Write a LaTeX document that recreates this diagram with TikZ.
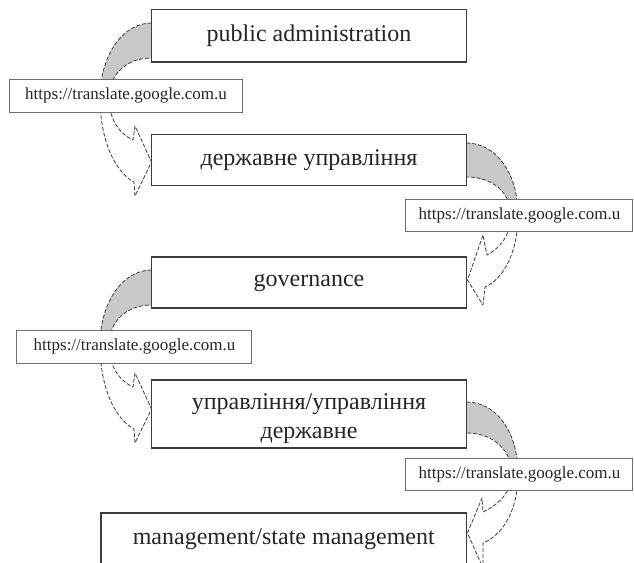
\documentclass[tikz,border=0pt]{standalone}
\usepackage{fontspec}
\setmainfont{Liberation Serif}
\definecolor{arrowgray}{RGB}{200,200,200}
\definecolor{edgegray}{RGB}{60,60,60}
\definecolor{labelgray}{RGB}{110,110,110}
\tikzset{
  mainbox/.style={draw=edgegray, line width=0.6pt, fill=white, inner sep=0pt,
    align=center, font=\fontsize{12}{13.5}\selectfont, text=black!85},
  linkbox/.style={draw=labelgray, line width=0.5pt, fill=white, inner sep=0pt,
    font=\fontsize{8.5}{10}\selectfont, text=black!85},
  arrowedge/.style={draw=edgegray, line width=0.4pt, dash pattern=on 2pt off 0.9pt, line join=round},
  arrowtop/.style={arrowedge, fill=arrowgray},
}
\begin{document}
\begin{tikzpicture}[x=0.5pt, y=-0.5pt]
\useasboundingbox (0,0) rectangle (634,563);
\clip (0,0) rectangle (634,563);

% ---------- left curved arrows (box1 -> box2, box3 -> box4)
\foreach \dy in {0,247}{
\begin{scope}[shift={(0,\dy)}]
  \path[arrowtop] (151.5,23) .. controls (123,23) and (100,55) .. (100,98)
     -- (109,98) .. controls (109,75) and (126,58) .. (151.5,58) -- cycle;
  \path[arrowedge] (100,98) .. controls (100,140) and (115,172) .. (134,182)
     -- (135,196) -- (151.5,162) -- (135,126) -- (133,140)
     .. controls (120,134) and (109,120) .. (109,98);
\end{scope}}

% ---------- right curved arrow (box2 -> box3)
\path[arrowtop] (466.5,143) .. controls (495,143) and (518,172) .. (518,215)
   -- (511,215) .. controls (511,195) and (495,177) .. (466.5,177) -- cycle;
\path[arrowedge] (518,215) .. controls (518,250) and (505,278) .. (485,287)
   -- (483,305) -- (467.5,280) -- (483,235) -- (487,255)
   .. controls (500,248) and (511,235) .. (511,215);

% ---------- right curved arrow (box4 -> box5)
\path[arrowtop] (466.5,402) .. controls (495,402) and (518,430) .. (518,474)
   -- (512,474) .. controls (512,452) and (495,433) .. (466.5,433) -- cycle;
\path[arrowedge] (518,474) .. controls (518,510) and (503,535) .. (483,543)
   -- (483,568) -- (467.5,533) -- (482,498) -- (483,512)
   .. controls (498,505) and (512,492) .. (512,474);

% ---------- main boxes
\node[mainbox, minimum width=157.5pt, minimum height=26.25pt] (b1) at (309,35.75) {public administration};
\node[mainbox, minimum width=157.5pt, minimum height=25.75pt] (b2) at (309,160) {державне управління};
\node[mainbox, minimum width=157.5pt, minimum height=25.5pt] (b3) at (309,282.5) {governance};
\node[mainbox, minimum width=157.5pt, minimum height=34pt, font=\fontsize{12}{14.5}\selectfont] (b4) at (309,414) {\rule{0pt}{13pt}управління/управління\\державне};
\node[mainbox, minimum width=182.75pt, minimum height=26.5pt] (b5) at (283.75,539.5) {management/state management};

% ---------- link labels
\node[linkbox, minimum width=117pt, minimum height=16.5pt] (l1) at (126,95.5) {https://translate.google.com.u};
\node[linkbox, minimum width=113.5pt, minimum height=16pt] (l2) at (519.5,215) {https://translate.google.com.u};
\node[linkbox, minimum width=117.5pt, minimum height=16.5pt] (l3) at (134.5,346.5) {https://translate.google.com.u};
\node[linkbox, minimum width=113.5pt, minimum height=16pt] (l4) at (519.5,474) {https://translate.google.com.u};
\end{tikzpicture}
\end{document}
